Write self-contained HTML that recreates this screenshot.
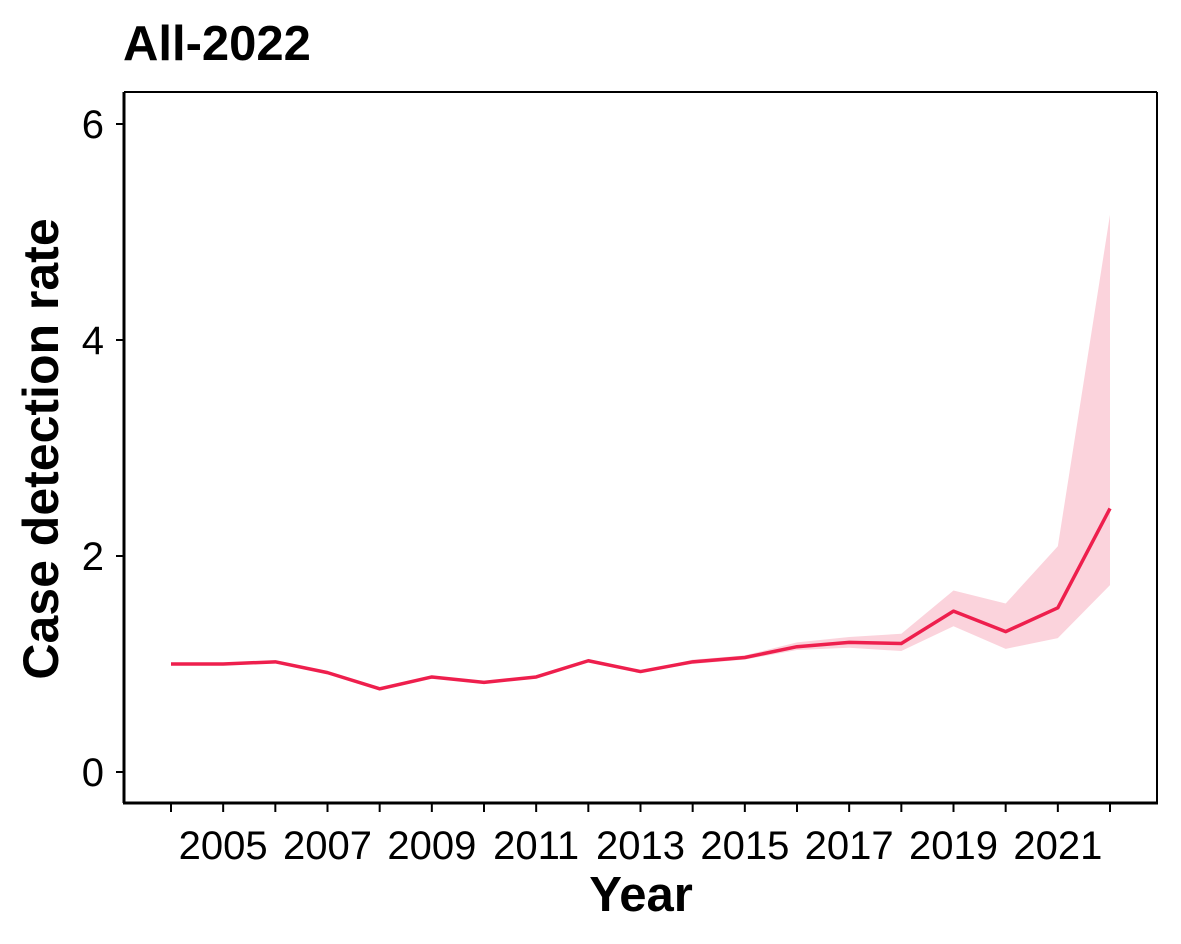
<!DOCTYPE html>
<html><head><meta charset="utf-8"><style>
html,body{margin:0;padding:0;background:#fff;}
svg{display:block;font-family:"Liberation Sans",Arial,sans-serif;}
</style></head><body>
<svg id="chart" width="1181" height="944" viewBox="0 0 1181 944">
<text x="123" y="60" font-size="49" font-weight="bold">All-2022</text>
<g id="band-g"></g>
<g id="line-g"></g>
<line x1="124" y1="92" x2="1157" y2="92" stroke="#000" stroke-width="2"/>
<line x1="1157" y1="92" x2="1157" y2="803" stroke="#000" stroke-width="2"/>
<line x1="124" y1="92" x2="124" y2="803" stroke="#000" stroke-width="3"/>
<line x1="123" y1="803" x2="1158" y2="803" stroke="#000" stroke-width="3"/>
<g id="yticks"></g>
<g id="xticks"></g>
<text x="641" y="911" font-size="49" font-weight="bold" text-anchor="middle">Year</text>
<text transform="translate(58,449) rotate(-90)" font-size="50" font-weight="bold" text-anchor="middle">Case detection rate</text>
</svg>
<script>
const years=[2004,2005,2006,2007,2008,2009,2010,2011,2012,2013,2014,2015,2016,2017,2018,2019,2020,2021,2022];
const rate=[1.0,1.0,1.02,0.92,0.77,0.88,0.83,0.88,1.03,0.93,1.02,1.06,1.16,1.20,1.19,1.49,1.30,1.52,2.44];
const upper=[1.0,1.0,1.02,0.92,0.77,0.88,0.83,0.88,1.03,0.93,1.04,1.08,1.20,1.25,1.28,1.68,1.56,2.09,5.16];
const lower=[1.0,1.0,1.02,0.92,0.77,0.88,0.83,0.88,1.03,0.93,1.00,1.04,1.13,1.15,1.12,1.35,1.14,1.24,1.73];
const yTicks=[0,2,4,6];
const xLabels=[2005,2007,2009,2011,2013,2015,2017,2019,2021];
const NS="http://www.w3.org/2000/svg";
const xs=y=>171+(y-2004)*(1110-171)/18;
const ys=v=>772-v*108;
function mk(tag,attrs,parent){const e=document.createElementNS(NS,tag);for(const k in attrs)e.setAttribute(k,attrs[k]);document.getElementById(parent).appendChild(e);return e;}
let pts=years.map((y,i)=>xs(y)+","+ys(upper[i]));
for(let i=years.length-1;i>=0;i--)pts.push(xs(years[i])+","+ys(lower[i]));
const band=mk("polygon",{points:pts.join(" "),fill:"#fbd3dc"},"band-g");


const line=mk("polyline",{points:years.map((y,i)=>xs(y)+","+ys(rate[i])).join(" "),fill:"none",stroke:"#ee1f4d","stroke-width":3.5,"stroke-linejoin":"round"},"line-g");


yTicks.forEach(v=>{
  const t=mk("line",{x1:116,x2:124,y1:ys(v),y2:ys(v),stroke:"#000","stroke-width":2},"yticks");
  
  
  const l=mk("text",{x:104,y:ys(v)+14,"font-size":40,"text-anchor":"end",fill:"#000"},"yticks");
  l.textContent=v;
  
  
});
years.forEach(y=>{
  const t=mk("line",{x1:xs(y),x2:xs(y),y1:803,y2:812,stroke:"#000","stroke-width":2},"xticks");
  
  
});
xLabels.forEach(y=>{
  const l=mk("text",{x:xs(y),y:859,"font-size":40,"text-anchor":"middle",fill:"#000"},"xticks");
  l.textContent=y;
  
  
});
</script>
</body></html>
